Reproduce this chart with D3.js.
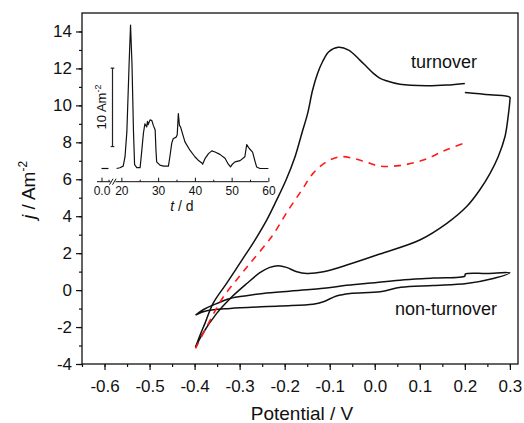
<!DOCTYPE html>
<html>
<head>
<meta charset="utf-8">
<script src="https://cdn.jsdelivr.net/npm/d3@7"></script>
<style>
  body { margin: 0; background: #fff; }
  text { font-family: "Liberation Sans", Arial, sans-serif; fill: #111; }
</style>
</head>
<body>
<svg id="chart" width="524" height="423"></svg>
<script>
// axis ticks
const potentialTicks = [-0.6, -0.5, -0.4, -0.3, -0.2, -0.1, 0.0, 0.1, 0.2, 0.3];
const currentTicks = [-4, -2, 0, 2, 4, 6, 8, 10, 12, 14];

// CV under turnover, anodic scan up to 0.2 V (then a gap in the record)
const turnoverForward = [
  [-0.398, -3.10], [-0.388, -2.44], [-0.377, -1.80], [-0.359, -0.72], [-0.329, 0.36],
  [-0.295, 1.62], [-0.266, 2.71], [-0.240, 3.79], [-0.218, 4.87], [-0.197, 5.96],
  [-0.177, 7.22], [-0.162, 8.48], [-0.149, 9.57], [-0.138, 10.83], [-0.127, 11.73],
  [-0.116, 12.36], [-0.102, 12.90], [-0.081, 13.14], [-0.058, 12.99], [-0.033, 12.45],
  [-0.018, 12.09], [-0.003, 11.73], [0.012, 11.46], [0.026, 11.33], [0.056, 11.14],
  [0.115, 11.06], [0.160, 11.10], [0.200, 11.19]
];
// rest of anodic scan + cathodic scan back to -0.4 V
const turnoverReverse = [
  [0.200, 10.70], [0.256, 10.57], [0.300, 10.44], [0.300, 10.29], [0.296, 9.38],
  [0.289, 8.30], [0.274, 7.22], [0.256, 6.32], [0.233, 5.42], [0.204, 4.52],
  [0.160, 3.61], [0.100, 2.71], [0.011, 1.95], [-0.055, 1.41], [-0.114, 0.99],
  [-0.151, 0.90], [-0.173, 0.99], [-0.196, 1.23], [-0.214, 1.32], [-0.233, 1.23],
  [-0.255, 0.94], [-0.284, 0.36], [-0.321, -0.45], [-0.351, -1.26], [-0.384, -2.43],
  [-0.398, -3.10]
];
// red dashed curve
const dashedCurve = [
  [-0.398, -3.15], [-0.373, -1.98], [-0.355, -1.15], [-0.336, -0.36], [-0.307, 0.55],
  [-0.277, 1.45], [-0.229, 2.89], [-0.192, 4.33], [-0.162, 5.41], [-0.137, 6.32],
  [-0.107, 6.95], [-0.077, 7.22], [-0.048, 7.13], [-0.018, 6.92], [0.011, 6.71],
  [0.054, 6.74], [0.108, 7.04], [0.158, 7.59], [0.202, 7.98]
];
// CV without turnover
const nonTurnover = [
  [-0.398, -1.35], [-0.380, -1.05], [-0.359, -0.81], [-0.321, -0.45], [-0.285, -0.30],
  [-0.248, -0.18], [-0.190, -0.06], [-0.137, 0.04], [-0.055, 0.27], [0.056, 0.54],
  [0.130, 0.65], [0.200, 0.76], [0.201, 0.87], [0.250, 0.90], [0.300, 0.94],
  [0.263, 0.63], [0.204, 0.36], [0.130, 0.25], [0.058, 0.15], [0.012, -0.09],
  [-0.055, -0.18], [-0.085, -0.32], [-0.114, -0.63], [-0.137, -0.76], [-0.210, -0.86],
  [-0.321, -0.99], [-0.373, -1.12], [-0.398, -1.35]
];

// inset: current vs time
const insetDays = [
  18.7, 19.6, 20.5, 21.0, 21.5, 22.1, 22.5, 22.9, 23.3, 23.6, 24.2, 25.1,
  25.5, 26.0, 26.4, 26.9, 27.1, 27.3, 27.8, 28.3, 28.7, 29.2, 29.4, 29.6, 30.5, 31.5, 32.8,
  33.2, 33.7, 34.1, 34.9, 35.2, 35.5, 35.8, 36.1, 37.3, 38.7, 40.0, 40.9, 41.9, 42.1,
  42.8, 43.7, 44.6, 45.5, 46.8, 48.2, 49.1, 49.7, 50.2, 50.9, 52.3, 53.6, 54.1, 54.8,
  55.7, 56.4, 56.8, 57.7, 60.0
];
const insetCurrent = [
  0.0, 0.1, 0.3, 1.5, 4.7, 13.2, 18.3, 13.2, 4.7, 0.5, 0.1, 0.1,
  2.0, 4.5, 5.7, 5.3, 6.0, 5.6, 6.2, 6.1, 5.5, 4.9, 2.5, 0.85, 0.43, 0.3, 0.3,
  1.5, 3.2, 3.8, 4.0, 4.3, 7.0, 5.5, 5.3, 3.4, 2.3, 1.5, 1.06, 0.7, 0.55,
  1.3, 1.9, 2.25, 2.1, 1.8, 1.3, 0.55, 0.2, 0.55, 0.85, 1.0, 1.5, 3.06, 2.55,
  2.1, 0.85, 0.2, 0.0, 0.0
];
const insetStartDays = [0, 2];
const insetStartCurrent = [0, 0];
const insetTicks = [20, 30, 40, 50, 60];
const insetMinorTicks = [25, 35, 45, 55];

const svg = d3.select('#chart');

const x = d3.scaleLinear().domain([-0.65, 0.318]).range([82, 518]);
const y = d3.scaleLinear().domain([-4, 15]).range([364, 13]);

// minor ticks
svg.append('g')
    .attr('transform', 'translate(0,364)')
    .call(d3.axisBottom(x).tickValues(d3.range(-0.65, 0.32, 0.05).map(v => +v.toFixed(2)))
        .tickSize(3).tickSizeOuter(0).tickFormat(''))
    .call(g => g.select('.domain').remove());
svg.append('g')
    .attr('transform', 'translate(82,0)')
    .call(d3.axisLeft(y).tickValues(d3.range(-4, 15, 1)).tickSize(3).tickSizeOuter(0).tickFormat(''))
    .call(g => g.select('.domain').remove());

// major ticks
const xAxis = svg.append('g')
    .attr('transform', 'translate(0,364)')
    .call(d3.axisBottom(x).tickValues(potentialTicks).tickSize(6).tickSizeOuter(0)
        .tickPadding(10).tickFormat(d => d.toFixed(1)));
xAxis.select('.domain').remove();
xAxis.selectAll('text').attr('font-size', 17);

const yAxis = svg.append('g')
    .attr('transform', 'translate(82,0)')
    .call(d3.axisLeft(y).tickValues(currentTicks).tickSize(6).tickSizeOuter(0)
        .tickPadding(4).tickFormat(d => String(d)));
yAxis.select('.domain').remove();
yAxis.selectAll('text').attr('font-size', 17);

svg.selectAll('.tick line').attr('stroke', '#111').attr('stroke-width', 1.2);

// frame
svg.append('rect')
    .attr('x', 82).attr('y', 13)
    .attr('width', 518 - 82).attr('height', 364 - 13)
    .attr('fill', 'none').attr('stroke', '#111').attr('stroke-width', 1.3);

// curves
const line = d3.line()
    .x(d => x(d[0]))
    .y(d => y(d[1]))
    .curve(d3.curveCatmullRom.alpha(0.5));

[turnoverForward, turnoverReverse, nonTurnover].forEach(data => {
    svg.append('path')
        .attr('d', line(data))
        .attr('fill', 'none')
        .attr('stroke', '#111')
        .attr('stroke-width', 1.5);
});

svg.append('path')
    .attr('d', line(dashedCurve))
    .attr('fill', 'none')
    .attr('stroke', '#ff1a1a')
    .attr('stroke-width', 1.6)
    .attr('stroke-dasharray', '7,6');

// labels
svg.append('text').attr('x', 411).attr('y', 68).attr('font-size', 18).text('turnover');
svg.append('text').attr('x', 395).attr('y', 315).attr('font-size', 18).text('non-turnover');

svg.append('text')
    .attr('x', 302).attr('y', 420)
    .attr('text-anchor', 'middle')
    .attr('font-size', 19)
    .text('Potential / V');

const yLabel = svg.append('text')
    .attr('transform', 'translate(35,190) rotate(-90)')
    .attr('text-anchor', 'middle')
    .attr('font-size', 19);
yLabel.append('tspan').attr('font-style', 'italic').text('j');
yLabel.append('tspan').text(' / Am');
yLabel.append('tspan').attr('font-size', 12).attr('dy', -8).text('-2');

// ---- inset ----
const xi = d3.scaleLinear().domain([18, 60]).range([114, 268.4]);
const xi0 = d3.scaleLinear().domain([0, 2]).range([101.5, 108.5]);
const yi = d3.scaleLinear().domain([0, 10]).range([168.5, 90.1]);
const insetAxisY = 181.7;

const insetLine = d3.line()
    .x(d => d[0])
    .y(d => yi(d[1]));

svg.append('path')
    .attr('d', insetLine(insetStartDays.map((d, i) => [xi0(d), insetStartCurrent[i]])))
    .attr('fill', 'none').attr('stroke', '#111').attr('stroke-width', 1.2);
svg.append('path')
    .attr('d', insetLine(insetDays.map((d, i) => [xi(d), insetCurrent[i]])))
    .attr('fill', 'none').attr('stroke', '#111').attr('stroke-width', 1.2)
    .attr('stroke-linejoin', 'round');

// inset axis base with break
svg.append('line').attr('x1', 97).attr('x2', 110.5).attr('y1', insetAxisY).attr('y2', insetAxisY)
    .attr('stroke', '#111').attr('stroke-width', 1);
svg.append('line').attr('x1', 115.5).attr('x2', xi(60)).attr('y1', insetAxisY).attr('y2', insetAxisY)
    .attr('stroke', '#111').attr('stroke-width', 1);
[111.3, 114.3].forEach(bx => {
    svg.append('line')
        .attr('x1', bx - 1.8).attr('y1', insetAxisY + 3)
        .attr('x2', bx + 1.8).attr('y2', insetAxisY - 3)
        .attr('stroke', '#111').attr('stroke-width', 1);
});

const insetAxis = svg.append('g')
    .attr('transform', 'translate(0,' + insetAxisY + ')')
    .call(d3.axisBottom(xi).tickValues(insetTicks).tickSize(-4).tickSizeOuter(0).tickPadding(5));
insetAxis.select('.domain').remove();
insetAxis.selectAll('text').attr('font-size', 12);

const insetMinor = svg.append('g')
    .attr('transform', 'translate(0,' + insetAxisY + ')')
    .call(d3.axisBottom(xi).tickValues(insetMinorTicks).tickSize(-2).tickSizeOuter(0).tickFormat(''));
insetMinor.select('.domain').remove();

const insetAxis0 = svg.append('g')
    .attr('transform', 'translate(0,' + insetAxisY + ')')
    .call(d3.axisBottom(xi0).tickValues([0]).tickSize(-4).tickSizeOuter(0).tickPadding(5)
        .tickFormat(d => d.toFixed(1)));
insetAxis0.select('.domain').remove();
insetAxis0.selectAll('text').attr('font-size', 12);
const insetMinor0 = svg.append('g')
    .attr('transform', 'translate(0,' + insetAxisY + ')')
    .call(d3.axisBottom(xi0).tickValues([2]).tickSize(-2).tickSizeOuter(0).tickFormat(''));
insetMinor0.select('.domain').remove();

svg.selectAll('.tick line').attr('stroke', '#111');

const tLabel = svg.append('text')
    .attr('x', 182).attr('y', 211)
    .attr('text-anchor', 'middle')
    .attr('font-size', 14);
tLabel.append('tspan').attr('font-style', 'italic').text('t');
tLabel.append('tspan').text(' / d');

// scale bar 10 A/m2
const barX = 112.5;
svg.append('line')
    .attr('x1', barX).attr('x2', barX)
    .attr('y1', yi(2.8)).attr('y2', yi(12.8))
    .attr('stroke', '#222').attr('stroke-width', 1.2);
[2.8, 12.8].forEach(v => {
    svg.append('line')
        .attr('x1', barX - 1.8).attr('x2', barX + 1.8)
        .attr('y1', yi(v)).attr('y2', yi(v))
        .attr('stroke', '#222').attr('stroke-width', 1.2);
});
const barLabel = svg.append('text')
    .attr('transform', 'translate(105.5,107) rotate(-90)')
    .attr('text-anchor', 'middle')
    .attr('font-size', 13);
barLabel.append('tspan').text('10 Am');
barLabel.append('tspan').attr('font-size', 9).attr('dy', -5).text('-2');
</script>
</body>
</html>
